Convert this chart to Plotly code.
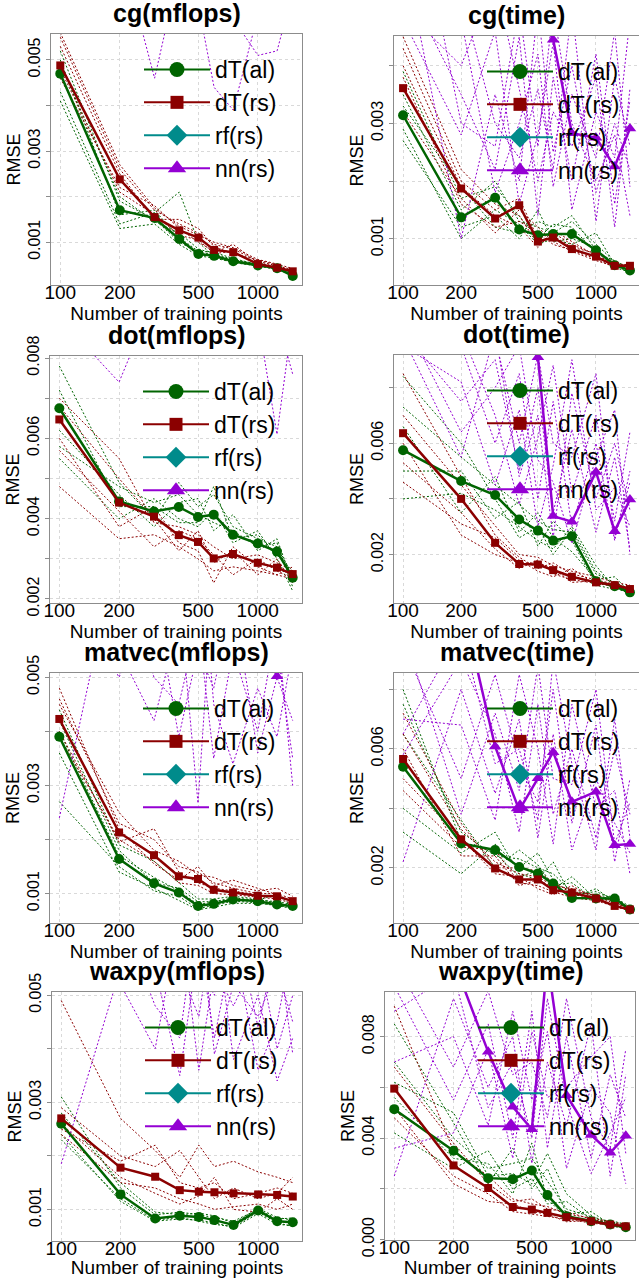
import plotly.graph_objects as go

# ---------------- data (RMSE values in thousandths) ----------------
X = [100, 200, 300, 400, 500, 600, 750, 1000, 1250, 1500]
X_TICKS = [100, 200, 500, 1000]
SCALE = 1e-3
SERIES_NAMES = ["dT(al)", "dT(rs)", "rf(rs)", "nn(rs)"]
TITLES = ["cg(mflops)", "cg(time)", "dot(mflops)", "dot(time)",
          "matvec(mflops)", "matvec(time)", "waxpy(mflops)", "waxpy(time)"]

# rf(rs) never shows inside any panel
RF = [None] * 10

# ---- cg(mflops)
CG_MF_AL = [4.70, 1.70, 1.53, 1.07, 0.74, 0.70, 0.58, 0.49, 0.43, 0.26]
CG_MF_RS = [4.88, 2.38, 1.55, 1.26, 1.10, 0.83, 0.78, 0.52, 0.44, 0.36]
CG_MF_NN = [9.0, 8.5, 7.8, 8.2, 7.5, 7.9, 7.2, 7.0, 6.8, 6.5]
CG_MF_AL_RUNS = [[5.2, 1.9, 1.5, 1.0, 0.78, 0.72, 0.60, 0.50, 0.42, 0.30],
                 [4.3, 1.4, 1.65, 2.1, 1.0, 0.68, 0.55, 0.48, 0.40, 0.28],
                 [4.9, 2.0, 1.45, 1.2, 0.85, 0.75, 0.62, 0.52, 0.45, 0.32],
                 [4.1, 1.3, 1.4, 0.95, 0.70, 0.65, 0.56, 0.47, 0.41, 0.27],
                 [5.0, 1.6, 1.7, 1.1, 0.80, 0.78, 0.64, 0.51, 0.44, 0.30]]
CG_MF_RS_RUNS = [[5.5, 2.6, 1.7, 1.4, 1.2, 0.95, 0.85, 0.58, 0.48, 0.40],
                 [4.6, 2.2, 1.8, 1.3, 1.0, 0.80, 0.95, 0.55, 0.46, 0.38],
                 [5.3, 2.5, 1.5, 1.5, 1.3, 0.90, 0.75, 0.60, 0.50, 0.35],
                 [4.8, 2.1, 1.6, 1.15, 1.05, 0.75, 0.80, 0.50, 0.43, 0.37],
                 [5.6, 2.7, 1.75, 1.35, 1.15, 1.0, 0.88, 0.62, 0.52, 0.42]]
CG_MF_NN_RUNS = [[8.0, 7.5, 4.6, 7.0, 6.5, 7.2, 6.8, 7.5, 6.9, 8.0],
                 [9.0, 8.5, 7.0, 6.8, 6.2, 4.4, 3.9, 6.0, 7.0, 7.5],
                 [7.5, 9.0, 6.5, 7.5, 7.0, 6.6, 5.9, 5.1, 5.2, 6.5]]

# ---- cg(time)
CG_T_AL = [3.14, 1.37, 1.71, 1.16, 1.06, 1.08, 1.08, 0.80, 0.54, 0.45]
CG_T_RS = [3.61, 1.87, 1.35, 1.58, 0.95, 1.02, 0.82, 0.69, 0.53, 0.53]
CG_T_NN = [7.0, 6.5, 6.0, 5.5, 5.0, 4.45, 2.83, 2.75, 2.25, 2.91]
CG_T_AL_RUNS = [[3.5, 1.5, 2.0, 1.3, 1.2, 1.1, 1.3, 0.9, 0.6, 0.5],
                [2.7, 1.2, 1.4, 1.0, 1.5, 0.95, 1.0, 0.85, 0.5, 0.42],
                [3.9, 1.7, 1.9, 1.4, 1.0, 1.25, 1.2, 0.75, 0.62, 0.48],
                [2.9, 1.0, 1.5, 1.25, 0.9, 1.0, 0.9, 1.1, 0.55, 0.40],
                [3.3, 1.9, 1.2, 1.1, 1.3, 1.2, 1.4, 0.8, 0.58, 0.44]]
CG_T_RS_RUNS = [[4.3, 2.0, 1.5, 1.7, 1.0, 1.1, 0.9, 0.72, 0.56, 0.55],
                [3.8, 1.6, 1.2, 1.3, 1.1, 0.9, 0.8, 0.65, 0.50, 0.52],
                [4.5, 2.2, 1.6, 1.4, 0.9, 1.05, 0.85, 0.75, 0.58, 0.50],
                [3.2, 1.7, 1.1, 1.5, 1.2, 0.95, 0.78, 0.62, 0.52, 0.56],
                [4.0, 1.9, 1.4, 1.2, 0.85, 1.15, 0.95, 0.7, 0.55, 0.48]]
CG_T_NN_RUNS = [[6.0, 1.0, 3.5, 2.0, 5.0, 2.5, 4.0, 1.8, 3.0, 2.2],
                [5.5, 3.5, 2.2, 4.5, 1.4, 3.8, 2.0, 4.2, 1.6, 3.4],
                [7.0, 4.8, 1.8, 3.0, 4.2, 1.9, 3.5, 2.4, 4.6, 1.9],
                [4.8, 2.8, 4.6, 1.6, 2.8, 4.4, 1.5, 3.2, 2.4, 4.8],
                [6.5, 5.2, 3.0, 2.4, 3.6, 2.2, 5.0, 1.3, 3.8, 2.6],
                [5.0, 4.0, 5.5, 3.6, 2.0, 3.2, 2.6, 3.8, 1.2, 3.6],
                [8.0, 3.0, 2.6, 5.0, 2.6, 5.0, 3.0, 2.0, 2.8, 1.4]]

# ---- dot(mflops)
DOT_MF_AL = [6.75, 4.43, 4.18, 4.29, 4.04, 4.10, 3.60, 3.38, 3.18, 2.53]
DOT_MF_RS = [6.47, 4.40, 4.05, 3.59, 3.42, 3.01, 3.12, 2.90, 2.78, 2.62]
DOT_MF_NN = [10.0, 12.0, 11.0, 10.5, 11.0, 12.0, 10.0, 11.0, 10.2, 10.8]
DOT_MF_AL_RUNS = [[7.8, 4.9, 4.0, 4.9, 4.3, 4.6, 3.8, 3.5, 3.3, 2.6],
                  [5.5, 4.0, 4.5, 4.0, 3.8, 4.2, 3.4, 3.7, 3.0, 2.2],
                  [6.2, 4.6, 3.8, 4.4, 4.5, 3.7, 4.1, 3.2, 3.5, 2.4],
                  [7.2, 4.3, 4.3, 3.9, 3.9, 4.8, 3.5, 3.6, 3.1, 2.7],
                  [5.8, 4.8, 4.4, 4.6, 4.1, 3.9, 3.7, 3.3, 3.4, 2.3]]
DOT_MF_RS_RUNS = [[4.8, 3.5, 3.6, 3.3, 3.0, 2.7, 2.8, 2.7, 2.6, 2.5],
                  [7.0, 5.5, 3.9, 3.8, 3.6, 3.3, 3.0, 3.1, 2.9, 2.7],
                  [6.0, 3.8, 4.3, 3.4, 3.2, 2.4, 3.3, 2.8, 2.6, 2.8],
                  [5.7, 4.2, 3.3, 3.7, 3.5, 3.1, 2.6, 3.0, 2.7, 2.5],
                  [6.8, 5.0, 4.0, 3.2, 3.7, 2.9, 3.2, 2.6, 3.0, 2.4]]
DOT_MF_NN_RUNS = [[9.0, 7.4, 9.5, 10.0, 9.8, 10.0, 9.5, 9.0, 6.1, 9.0],
                  [10.0, 9.0, 10.0, 9.5, 10.0, 9.6, 10.0, 9.8, 9.0, 7.6]]

# ---- dot(time)
DOT_T_AL = [5.75, 4.64, 4.14, 3.26, 2.86, 2.50, 2.66, 1.04, 0.86, 0.64]
DOT_T_RS = [6.36, 4.00, 2.42, 1.66, 1.64, 1.44, 1.20, 1.00, 0.90, 0.76]
DOT_T_NN = [13.0, 12.0, 11.0, 10.0, 9.09, 3.38, 3.18, 4.97, 2.84, 3.98]
DOT_T_AL_RUNS = [[7.3, 5.5, 4.5, 3.8, 3.2, 2.9, 2.8, 1.3, 1.0, 0.7],
                 [4.0, 4.2, 3.6, 3.0, 2.5, 2.2, 3.0, 1.6, 0.8, 0.6],
                 [6.6, 3.5, 4.8, 2.8, 3.5, 2.6, 2.1, 1.1, 1.2, 0.65],
                 [5.0, 5.0, 3.3, 3.9, 2.3, 3.2, 2.5, 0.9, 0.75, 0.8],
                 [8.4, 6.0, 4.0, 2.6, 3.0, 2.0, 2.9, 1.4, 0.9, 0.55]]
DOT_T_RS_RUNS = [[7.0, 4.5, 3.0, 2.0, 1.9, 1.6, 1.4, 1.2, 1.0, 0.9],
                 [5.3, 3.5, 2.2, 1.5, 1.8, 1.3, 1.1, 0.95, 0.85, 0.7],
                 [8.5, 4.8, 2.7, 1.9, 1.5, 1.7, 1.3, 1.1, 0.95, 0.8],
                 [4.6, 3.1, 2.6, 1.8, 1.4, 1.2, 1.5, 0.9, 1.0, 0.75],
                 [6.0, 2.7, 2.0, 1.7, 1.7, 1.5, 1.0, 1.05, 0.8, 0.85]]
DOT_T_NN_RUNS = [[11.0, 9.5, 6.0, 8.5, 4.0, 7.5, 3.0, 6.0, 2.5, 5.0],
                 [10.0, 7.5, 9.0, 5.0, 8.0, 3.5, 6.5, 2.8, 5.5, 2.2],
                 [12.0, 10.0, 7.0, 3.8, 6.2, 8.8, 4.2, 7.0, 3.2, 6.4],
                 [9.5, 8.2, 4.5, 7.2, 3.0, 5.2, 9.0, 3.6, 4.4, 3.0],
                 [10.5, 6.4, 8.0, 9.5, 5.4, 4.6, 2.4, 5.5, 7.2, 2.0],
                 [13.0, 11.0, 9.8, 6.0, 9.2, 6.0, 5.5, 8.5, 2.6, 4.6],
                 [9.8, 5.5, 10.0, 4.8, 7.0, 2.6, 7.8, 4.0, 6.0, 3.6]]

# ---- matvec(mflops)
MV_MF_AL = [3.90, 1.64, 1.19, 1.02, 0.77, 0.81, 0.89, 0.86, 0.80, 0.77]
MV_MF_RS = [4.23, 2.13, 1.71, 1.32, 1.27, 1.07, 1.02, 0.96, 0.95, 0.86]
MV_MF_NN = [9.0, 8.0, 7.5, 7.0, 6.8, 6.5, 6.2, 5.9, 5.02, 6.0]
MV_MF_AL_RUNS = [[4.2, 1.8, 1.2, 1.1, 0.85, 0.85, 0.92, 0.88, 0.85, 0.80],
                 [2.7, 1.5, 1.05, 0.95, 0.72, 0.78, 0.86, 0.83, 0.78, 0.74],
                 [4.4, 1.9, 1.6, 1.2, 0.9, 0.9, 0.95, 0.9, 0.82, 0.79],
                 [3.6, 1.4, 1.1, 0.88, 0.7, 0.75, 0.82, 0.82, 0.78, 0.72],
                 [4.0, 1.7, 1.3, 1.05, 0.8, 0.84, 0.9, 0.87, 1.0, 0.76]]
MV_MF_RS_RUNS = [[4.6, 2.3, 2.0, 1.5, 1.4, 1.2, 1.1, 1.0, 1.0, 0.9],
                 [3.9, 2.0, 1.6, 1.2, 1.15, 1.0, 0.98, 0.93, 0.9, 0.82],
                 [4.5, 2.5, 1.8, 1.6, 1.35, 1.3, 1.15, 1.05, 1.1, 0.95],
                 [4.0, 1.95, 2.2, 1.4, 1.2, 1.1, 1.05, 0.97, 0.92, 0.88],
                 [4.8, 2.2, 1.55, 1.25, 1.5, 1.15, 1.25, 1.1, 0.98, 0.84]]
MV_MF_NN_RUNS = [[9.0, 6.0, 7.0, 8.0, 6.5, 7.0, 8.0, 6.0, 7.0, 8.0],
                 [2.4, 7.5, 6.0, 6.5, 2.67, 7.0, 6.0, 7.0, 5.5, 3.5],
                 [6.0, 5.5, 4.2, 6.0, 8.0, 4.5, 3.4, 4.8, 3.9, 5.5],
                 [8.0, 7.0, 5.0, 4.5, 6.0, 3.5, 5.5, 4.0, 6.0, 3.0],
                 [7.0, 5.0, 6.5, 3.9, 5.5, 4.8, 6.5, 3.6, 5.0, 4.2]]

# ---- matvec(time)
MV_T_AL = [5.40, 2.82, 2.60, 2.03, 1.81, 1.47, 0.99, 0.97, 0.97, 0.60]
MV_T_RS = [5.66, 2.96, 1.98, 1.61, 1.61, 1.25, 1.17, 0.97, 0.72, 0.60]
MV_T_NN = [14.0, 11.0, 6.08, 3.94, 5.01, 5.89, 4.22, 4.56, 2.76, 2.80]
MV_T_AL_RUNS = [[7.5, 3.2, 2.4, 2.3, 2.0, 1.8, 1.2, 1.1, 1.0, 0.7],
                [4.0, 2.5, 3.2, 1.8, 1.6, 2.2, 1.0, 1.3, 0.85, 0.65],
                [6.5, 3.6, 2.0, 2.6, 2.1, 1.4, 1.5, 0.9, 1.1, 0.55],
                [3.2, 1.8, 2.8, 2.0, 2.5, 1.6, 1.1, 1.2, 0.95, 0.62],
                [8.0, 2.9, 2.5, 1.7, 1.9, 1.3, 1.7, 0.95, 0.9, 0.58]]
MV_T_RS_RUNS = [[6.5, 3.3, 2.2, 1.8, 1.7, 1.4, 1.3, 1.05, 0.8, 0.65],
                [4.6, 2.7, 2.6, 1.5, 1.4, 1.2, 1.0, 0.9, 0.7, 0.55],
                [7.2, 3.5, 2.0, 2.0, 1.9, 1.5, 1.2, 1.1, 0.85, 0.62],
                [5.0, 3.0, 1.8, 1.7, 1.3, 1.1, 1.4, 0.95, 0.75, 0.58],
                [6.0, 2.4, 2.4, 1.4, 1.6, 1.35, 1.1, 1.0, 0.9, 0.66]]
MV_T_NN_RUNS = [[2.2, 8.0, 4.5, 7.0, 3.0, 6.5, 2.6, 5.0, 3.5, 2.5],
                [5.8, 9.0, 6.5, 3.2, 7.5, 3.8, 6.0, 3.0, 6.0, 3.8],
                [9.5, 5.0, 8.5, 5.5, 4.2, 8.0, 3.5, 6.8, 2.2, 5.0],
                [7.0, 6.8, 3.6, 8.5, 6.0, 2.8, 7.5, 4.0, 4.6, 1.8],
                [10.0, 3.8, 7.2, 4.6, 8.8, 5.0, 4.8, 8.0, 2.8, 4.2],
                [6.5, 10.0, 5.5, 6.0, 3.6, 9.0, 5.5, 2.6, 7.0, 3.0]]

# ---- waxpy(mflops)
WX_MF_AL = [2.60, 1.28, 0.83, 0.88, 0.86, 0.80, 0.71, 0.98, 0.78, 0.76]
WX_MF_RS = [2.70, 1.78, 1.61, 1.36, 1.33, 1.32, 1.30, 1.28, 1.27, 1.24]
WX_MF_NN = [10.0, 9.0, 8.5, 8.0, 8.2, 7.8, 8.0, 7.5, 7.8, 7.2]
WX_MF_AL_RUNS = [[3.1, 1.4, 0.9, 0.95, 0.9, 0.85, 0.78, 1.0, 0.82, 0.84],
                 [2.4, 1.15, 0.78, 0.82, 0.8, 0.75, 0.66, 0.92, 0.72, 0.7],
                 [2.8, 1.5, 0.95, 0.9, 0.93, 0.88, 0.74, 1.02, 0.85, 0.8],
                 [2.3, 1.2, 0.8, 0.85, 0.78, 0.72, 0.68, 0.95, 0.75, 0.68]]
WX_MF_RS_RUNS = [[4.9, 2.7, 2.1, 1.6, 2.2, 1.8, 1.9, 1.7, 1.6, 1.5],
                 [2.5, 1.9, 2.2, 1.5, 1.4, 1.5, 1.2, 1.3, 1.4, 1.3],
                 [2.4, 1.5, 1.4, 1.2, 1.1, 1.0, 1.05, 1.1, 1.0, 1.1],
                 [2.9, 2.0, 1.8, 2.1, 1.6, 1.2, 1.4, 1.2, 1.3, 1.6],
                 [2.6, 1.6, 1.3, 1.1, 1.25, 1.6, 1.0, 0.95, 1.2, 1.0]]
WX_MF_NN_RUNS = [[1.85, 5.5, 7.0, 6.0, 8.0, 6.5, 7.0, 6.0, 7.0, 5.5],
                 [6.0, 7.0, 5.5, 3.5, 6.0, 4.2, 6.0, 3.6, 4.5, 6.0],
                 [8.0, 6.0, 7.5, 5.5, 4.6, 6.5, 3.8, 5.0, 3.4, 4.2],
                 [7.0, 8.0, 6.0, 7.0, 5.5, 5.0, 6.5, 4.4, 6.0, 3.9],
                 [6.5, 5.2, 4.0, 6.5, 3.6, 5.5, 4.8, 5.8, 4.0, 5.0],
                 [5.5, 6.5, 4.8, 4.2, 6.8, 3.9, 5.2, 4.6, 5.5, 4.5]]

# ---- waxpy(time)
WX_T_AL = [5.14, 3.50, 2.42, 2.38, 2.72, 1.75, 0.92, 0.72, 0.59, 0.48]
WX_T_RS = [5.95, 2.92, 2.03, 1.28, 1.18, 1.05, 0.88, 0.72, 0.59, 0.52]
WX_T_NN = [13.0, 11.0, 7.4, 5.23, 4.35, 11.0, 5.69, 4.12, 3.42, 4.09]
WX_T_AL_RUNS = [[7.0, 4.0, 2.8, 3.0, 3.2, 2.3, 1.2, 0.9, 0.7, 0.55],
                [4.2, 2.8, 3.5, 2.0, 2.4, 1.4, 1.5, 0.8, 0.65, 0.5],
                [8.5, 4.6, 2.2, 3.6, 2.0, 2.8, 1.0, 1.1, 0.6, 0.45],
                [5.6, 3.2, 3.0, 1.8, 3.8, 1.6, 0.85, 0.7, 0.75, 0.6],
                [6.2, 5.0, 2.5, 2.6, 2.2, 3.4, 1.8, 0.95, 0.55, 0.42]]
WX_T_RS_RUNS = [[9.2, 3.5, 2.5, 1.6, 1.4, 1.3, 1.0, 0.85, 0.7, 0.6],
                [4.8, 2.5, 1.8, 1.1, 1.0, 0.9, 0.8, 0.65, 0.55, 0.48],
                [6.8, 3.8, 2.2, 1.5, 1.6, 1.2, 1.1, 0.8, 0.65, 0.58],
                [5.2, 2.2, 1.5, 1.4, 1.1, 1.0, 0.7, 0.75, 0.5, 0.5]]
WX_T_NN_RUNS = [[2.5, 9.5, 6.0, 8.0, 3.0, 7.0, 4.5, 8.5, 2.5, 6.5],
                [10.0, 5.5, 8.5, 4.0, 9.0, 3.6, 8.0, 3.2, 6.5, 4.8],
                [7.0, 8.0, 4.5, 9.0, 5.5, 8.2, 2.8, 6.0, 5.0, 2.2],
                [11.0, 6.8, 9.8, 6.5, 7.0, 4.8, 9.5, 4.8, 3.6, 7.5],
                [3.6, 4.2, 7.5, 3.2, 8.2, 5.6, 6.0, 7.2, 8.0, 3.4],
                [9.0, 10.5, 5.2, 7.0, 4.0, 9.5, 5.4, 2.6, 4.2, 5.6]]

# y-axis ticks (thousandths) and which of them carry a label
Y_TICKS = [[1, 2, 3, 4, 5], [1, 2, 3, 4], [2, 3, 4, 5, 6, 7, 8], [2, 4, 6, 8],
           [1, 2, 3, 4, 5], [2, 4, 6, 8], [1, 2, 3, 4, 5], [0, 2, 4, 6, 8]]
Y_LABELED = [[1, 3, 5], [1, 3], [2, 4, 6, 8], [2, 6],
             [1, 3, 5], [2, 6], [1, 3, 5], [0, 4, 8]]

PANEL_DATA = [
    (CG_MF_AL, CG_MF_RS, CG_MF_NN, CG_MF_AL_RUNS, CG_MF_RS_RUNS, CG_MF_NN_RUNS),
    (CG_T_AL, CG_T_RS, CG_T_NN, CG_T_AL_RUNS, CG_T_RS_RUNS, CG_T_NN_RUNS),
    (DOT_MF_AL, DOT_MF_RS, DOT_MF_NN, DOT_MF_AL_RUNS, DOT_MF_RS_RUNS, DOT_MF_NN_RUNS),
    (DOT_T_AL, DOT_T_RS, DOT_T_NN, DOT_T_AL_RUNS, DOT_T_RS_RUNS, DOT_T_NN_RUNS),
    (MV_MF_AL, MV_MF_RS, MV_MF_NN, MV_MF_AL_RUNS, MV_MF_RS_RUNS, MV_MF_NN_RUNS),
    (MV_T_AL, MV_T_RS, MV_T_NN, MV_T_AL_RUNS, MV_T_RS_RUNS, MV_T_NN_RUNS),
    (WX_MF_AL, WX_MF_RS, WX_MF_NN, WX_MF_AL_RUNS, WX_MF_RS_RUNS, WX_MF_NN_RUNS),
    (WX_T_AL, WX_T_RS, WX_T_NN, WX_T_AL_RUNS, WX_T_RS_RUNS, WX_T_NN_RUNS),
]

# ---------------- layout / style ----------------
W, H = 639, 1278
FONT = "Liberation Sans, Arial, Helvetica, sans-serif"
GREEN, RED, TEAL, PURPLE = "#006400", "#8B0000", "#008B8B", "#9400D3"

# plot area in pixels: (left, right, top, bottom)
GEOM = [(51, 302, 34, 285), (394, 639, 36, 285),
        (50, 302, 356, 603), (394, 639, 355, 603),
        (50, 302, 673, 923), (394, 639, 673, 923),
        (52, 302, 992, 1241), (385, 635, 992, 1240)]
# y ranges (thousandths)
Y_RANGE = [(0.06, 5.57), (0.197, 4.514), (1.9, 8.05), (0.258, 9.17),
           (0.456, 5.08), (0.146, 8.55), (0.41, 5.06), (-0.02, 9.76)]
X_RANGE = [1.953, 3.223]

fig = go.Figure()


def s(vals):
    return [None if v is None else v * SCALE for v in vals]


for i in range(8):
    al, rs, nn, al_runs, rs_runs, nn_runs = PANEL_DATA[i]
    k = "" if i == 0 else str(i + 1)
    xa, ya, lg = "x" + k, "y" + k, "legend" + k

    for runs, col in ((al_runs, GREEN), (rs_runs, RED), (nn_runs, PURPLE)):
        for r in runs:
            fig.add_trace(go.Scatter(x=X, y=s(r), xaxis=xa, yaxis=ya, mode="lines",
                                     line=dict(color=col, width=1, dash="2px,2px"),
                                     showlegend=False, hoverinfo="skip"))
    for vals, col, sym, ms in ((al, GREEN, "circle", 10), (rs, RED, "square", 8),
                               (RF, TEAL, "diamond", 10), (nn, PURPLE, "triangle-up", 11)):
        fig.add_trace(go.Scatter(x=X, y=s(vals), xaxis=xa, yaxis=ya, mode="lines+markers",
                                 line=dict(color=col, width=2.5),
                                 marker=dict(symbol=sym, size=ms, color=col),
                                 showlegend=False))
    # legend entries
    for name, col, sym, ms in zip(SERIES_NAMES, (GREEN, RED, TEAL, PURPLE),
                                  ("circle", "square", "diamond", "triangle-up"),
                                  (15, 13, 16, 16)):
        fig.add_trace(go.Scatter(x=[None], y=[None], xaxis=xa, yaxis=ya, name=name,
                                 mode="lines+markers", legend=lg,
                                 line=dict(color=col, width=2),
                                 marker=dict(symbol=sym, size=ms, color=col)))

    L, R, T, B = GEOM[i]
    xd = [L / W, min(R / W, 1.0)]
    yd = [1 - B / H, 1 - T / H]
    axis_common = dict(showgrid=True, gridcolor="#d9d9d9", griddash="dot", gridwidth=1,
                       showline=True, mirror=True, linecolor="#8c8c8c", linewidth=1,
                       zeroline=False, automargin=False,
                       tickfont=dict(family=FONT, size=19, color="black"))
    fig.layout["xaxis" + k] = dict(
        axis_common, type="log", range=X_RANGE, domain=xd, anchor=ya,
        tickvals=X_TICKS, ticktext=[str(t) for t in X_TICKS], ticks="",
        ticklabelstandoff=-10,
        title=dict(text="Number of training points", standoff=0,
                   font=dict(family=FONT, size=19, color="black")))
    tv = Y_TICKS[i]
    fig.layout["yaxis" + k] = dict(
        axis_common, range=[Y_RANGE[i][0] * SCALE, Y_RANGE[i][1] * SCALE], domain=yd,
        anchor=xa, tickvals=[t * SCALE for t in tv],
        ticktext=[("%.3f" % (t * SCALE)) if t in Y_LABELED[i] else "" for t in tv],
        tickangle=-90, ticks="outside", ticklen=4, tickcolor="#8c8c8c",
        tickfont=dict(family=FONT, size=16, color="black"),
        title=dict(text="RMSE", standoff=0, font=dict(family=FONT, size=18, color="black")))
    fig.layout[lg] = dict(x=(L + 88) / W, y=1 - (T + 14) / H, xanchor="left", yanchor="top",
                          bgcolor="rgba(0,0,0,0)", borderwidth=0, itemwidth=66,
                          font=dict(family=FONT, size=23, color="black"),
                          tracegroupgap=0)
    fig.add_annotation(text="<b>%s</b>" % TITLES[i], xref="paper", yref="paper",
                       x=(L + R) / 2 / W, y=1 - (T - 21) / H, xanchor="center", yanchor="middle",
                       showarrow=False, font=dict(family=FONT, size=25, color="black"))

fig.update_layout(width=W, height=H, margin=dict(l=0, r=0, t=0, b=0, autoexpand=False),
                  paper_bgcolor="white", plot_bgcolor="white",
                  font=dict(family=FONT))
fig.write_html("out.html", config={"displayModeBar": False},
               post_script="document.body.style.margin='0px';document.body.style.overflow='hidden';")
